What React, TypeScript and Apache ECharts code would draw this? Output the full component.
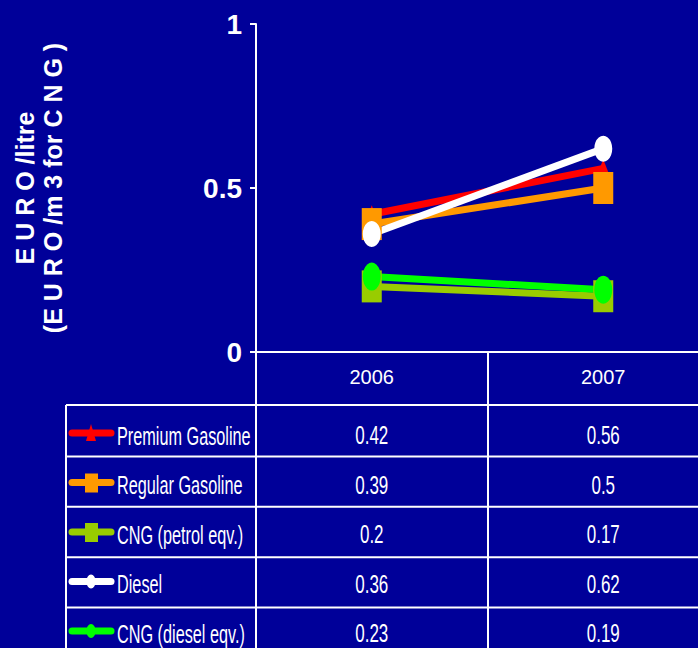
import React, { useEffect, useRef } from "react";
import * as echarts from "echarts";

const categories = ["2006", "2007"];
const seriesNames = [
  "Premium Gasoline",
  "Regular Gasoline",
  "CNG (petrol eqv.)",
  "Diesel",
  "CNG (diesel eqv.)",
];
const premiumGasoline = [0.42, 0.56];
const regularGasoline = [0.39, 0.5];
const cngPetrolEqv = [0.2, 0.17];
const diesel = [0.36, 0.62];
const cngDieselEqv = [0.23, 0.19];
const yAxisTitle = "E U R O /litre\n(E U R O /m 3 for C N G )";

const BG = "#000099";
const FONT = "'Liberation Sans', Arial, sans-serif";

const seriesData = [premiumGasoline, regularGasoline, cngPetrolEqv, diesel, cngDieselEqv];
const seriesColors = ["#FF0000", "#FF9900", "#99CC00", "#FFFFFF", "#00FF00"];
const seriesSymbols = ["triangle", "rect", "rect", "circle", "circle"];
const seriesSymbolSizes = [
  [14, 18],
  [20, 32],
  [20, 32],
  [18, 26],
  [18, 28],
];

export default function App() {
  const ref = useRef<HTMLDivElement>(null);

  useEffect(() => {
    if (!ref.current) return;
    const chart = echarts.init(ref.current, null, { renderer: "svg" });
    const option: any = {
      animation: false,
      backgroundColor: BG,
      textStyle: { fontFamily: FONT },
      grid: {
        left: 256,
        top: 24,
        width: 463,
        height: 328,
        containLabel: false,
        outerBoundsMode: "none",
      },
      xAxis: {
        type: "category",
        data: categories,
        boundaryGap: true,
        axisLine: { show: true, lineStyle: { color: "#FFFFFF", width: 2 } },
        axisTick: {
          show: true,
          alignWithLabel: false,
          length: 300,
          lineStyle: { color: "#FFFFFF", width: 2 },
        },
        axisLabel: { color: "#FFFFFF", fontSize: 20, fontFamily: FONT, margin: 15 },
        splitLine: { show: false },
      },
      yAxis: {
        type: "value",
        min: 0,
        max: 1,
        interval: 0.5,
        axisLine: { show: true, lineStyle: { color: "#FFFFFF", width: 2 } },
        axisTick: { show: true, length: 6, lineStyle: { color: "#FFFFFF", width: 2 } },
        axisLabel: {
          color: "#FFFFFF",
          fontSize: 28,
          fontWeight: "bold",
          fontFamily: FONT,
          margin: 14,
          formatter: (v: number) => String(v),
        },
        splitLine: { show: false },
        name: yAxisTitle,
        nameLocation: "middle",
        nameRotate: 90,
        nameGap: 189,
        nameTextStyle: {
          color: "#FFFFFF",
          fontSize: 25,
          fontWeight: "bold",
          fontFamily: FONT,
          lineHeight: 28,
          align: "center",
        },
      },
      series: seriesNames.map((name, i) => ({
        name,
        type: "line",
        data: seriesData[i],
        symbol: seriesSymbols[i],
        symbolSize: seriesSymbolSizes[i],
        lineStyle: { color: seriesColors[i], width: 7 },
        itemStyle: { color: seriesColors[i] },
      })),
    };
    chart.setOption(option);

    const xs = categories.map((c) => chart.convertToPixel({ xAxisIndex: 0 }, c) as number);
    const elements: any[] = [];
    const white = "#FFFFFF";
    for (let r = 0; r < seriesNames.length; r++) {
      const y = r === 0 ? 405 : 406 + r * 50.4;
      const cy = 436 + r * 49.5;
      const color = seriesColors[r];
      elements.push({
        type: "line",
        shape: { x1: 66, y1: y, x2: 698, y2: y },
        style: { stroke: white, lineWidth: 2 },
        silent: true,
      });
      // legend key: line + marker
      const ky = cy - 3;
      elements.push({
        type: "line",
        shape: { x1: 72, y1: ky, x2: 111, y2: ky },
        style: { stroke: color, lineWidth: 7, lineCap: "round" },
        silent: true,
      });
      const sym = seriesSymbols[r];
      if (sym === "triangle") {
        elements.push({
          type: "polygon",
          shape: { points: [[91, ky - 9], [96, ky + 8], [86, ky + 8]] },
          style: { fill: color },
          silent: true,
        });
      } else if (sym === "rect") {
        elements.push({
          type: "rect",
          shape: { x: 85, y: ky - 9, width: 13, height: 19 },
          style: { fill: color },
          silent: true,
        });
      } else {
        elements.push({
          type: "ellipse",
          shape: { cx: 91, cy: ky, rx: 4.5, ry: 7 },
          style: { fill: color },
          silent: true,
        });
      }
      elements.push({
        type: "text",
        x: 117,
        y: cy,
        scaleX: 0.65,
        style: {
          text: seriesNames[r],
          fill: white,
          fontSize: 25,
          fontFamily: FONT,
          align: "left",
          verticalAlign: "middle",
        },
        silent: true,
      });
      seriesData[r].forEach((v, j) => {
        elements.push({
          type: "text",
          x: xs[j],
          y: cy,
          scaleX: 0.68,
          style: {
            text: String(v),
            fill: white,
            fontSize: 25,
            fontFamily: FONT,
            align: "center",
            verticalAlign: "middle",
          },
          silent: true,
        });
      });
    }
    elements.push({
      type: "line",
      shape: { x1: 66, y1: 405, x2: 66, y2: 648 },
      style: { stroke: white, lineWidth: 2 },
      silent: true,
    });
    chart.setOption({ graphic: { elements } });

    return () => chart.dispose();
  }, []);

  return (
    <div
      ref={ref}
      style={{ position: "fixed", left: 0, top: 0, width: 698, height: 648 }}
    />
  );
}
